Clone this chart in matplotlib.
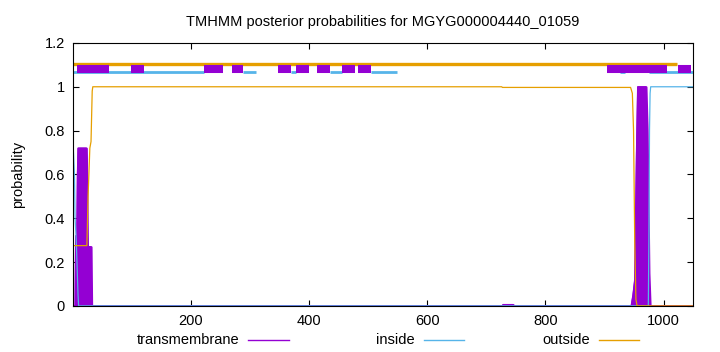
import matplotlib
matplotlib.use("Agg")
import matplotlib.pyplot as plt
from matplotlib.lines import Line2D

plt.rcParams['font.family'] = ['Liberation Sans', 'DejaVu Sans']

seq_len = 1049
title = "TMHMM posterior probabilities for MGYG000004440_01059"

# posterior probability curves (breakpoints)
tm_pos = [1, 4, 5, 7, 8, 9, 23, 24, 25, 31, 32, 727, 728, 745, 746,
          945, 948, 951, 954, 956, 970, 972, 975, 977, 1049]
tm_val = [0, 0, 0.32, 0.32, 0.6, 0.72, 0.72, 0.5, 0.27, 0.27, 0, 0, 0.006, 0.006, 0,
          0, 0.05, 0.12, 0.7, 1.0, 1.0, 0.8, 0.15, 0, 0]

ins_pos = [1, 3, 4, 6, 9, 10, 974, 975, 976, 977, 978, 1049]
ins_val = [0.72, 0.6, 0.4, 0.3, 0.05, 0, 0, 0.3, 0.8, 0.97, 1.0, 1.0]

out_pos = [1, 24, 26, 29, 31, 33, 34, 726, 727, 944, 947, 949, 951, 953, 955, 1049]
out_val = [0.275, 0.275, 0.5, 0.72, 0.75, 0.98, 1.0, 1.0, 0.997, 0.997, 0.97, 0.8, 0.3, 0.03, 0, 0]

# predicted topology band at the top
tm_segs = [(7, 40), (40, 62), (98, 120), (223, 240), (240, 254), (270, 289),
           (348, 370), (378, 399), (414, 436), (456, 478), (483, 505),
           (904, 926), (926, 955), (955, 976), (976, 1005), (1024, 1046)]
in_segs = [(1, 222), (289, 310), (370, 378), (436, 456), (505, 549),
           (926, 935), (976, 1049)]
out_segs = [(1, 1022)]

c_tm = '#9400d3'
c_in = '#56b4e9'
c_out = '#e69f00'

fig = plt.figure(figsize=(7.2, 3.52), dpi=100)
ax = fig.add_axes([0.1018, 0.131, 0.8602, 0.747])


def band(segs, y, **kw):
    ax.hlines([y] * len(segs), [s for s, e in segs], [e for s, e in segs],
              capstyle='butt', **kw)


# top band
band(out_segs, 1.104, color=c_out, lw=2.4)
band(in_segs, 1.066, color=c_in, lw=2.0)
band(tm_segs, 1.082, color=c_tm, lw=5.8)

# posterior curves
ax.fill_between(tm_pos, 0, tm_val, color=c_tm, lw=1.5, edgecolor=c_tm, zorder=2)
ax.plot(tm_pos, tm_val, color=c_tm, lw=0.9, zorder=2)
ax.plot(ins_pos, ins_val, color=c_in, lw=0.9, zorder=3)
ax.plot(out_pos, out_val, color=c_out, lw=0.9, zorder=3)

ax.set_xlim(1, seq_len)
ax.set_ylim(0, 1.2)
ax.set_xticks([200, 400, 600, 800, 1000])
ax.set_yticks([0, 0.2, 0.4, 0.6, 0.8, 1, 1.2])
ax.set_yticklabels(['0', '0.2', '0.4', '0.6', '0.8', '1', '1.2'])
ax.tick_params(direction='in', top=True, right=True, length=4, labelsize=10.5,
               pad=6)
for sp in ax.spines.values():
    sp.set_zorder(5)
ax.set_ylabel('probability', fontsize=10.5, labelpad=14)
ax.set_title(title, fontsize=10.5, pad=12)

# legend in gnuplot style: label then sample line
W, H = 720, 352
labels = ['transmembrane', 'inside', 'outside']
colors = [c_tm, c_in, c_out]
text_right = [239, 415, 590]
line_x = [(248, 289), (424, 464), (599, 639)]
ly = 340
for lab, col, tr, (x0, x1) in zip(labels, colors, text_right, line_x):
    fig.text(tr / W, 1 - ly / H, lab, ha='right', va='center', fontsize=10.5)
    fig.add_artist(Line2D([x0 / W, x1 / W], [1 - ly / H, 1 - ly / H],
                          color=col, lw=1, transform=fig.transFigure))

fig.savefig('out.png', dpi=100)
